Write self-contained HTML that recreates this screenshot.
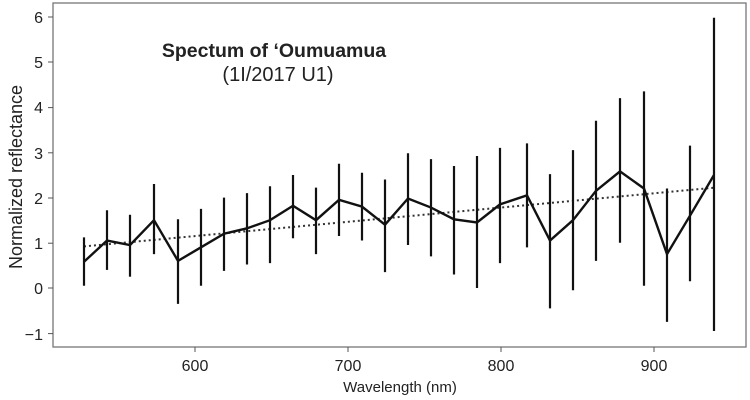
<!DOCTYPE html>
<html><head><meta charset="utf-8"><style>body{margin:0;background:#fff}svg{display:block}text{font-family:"Liberation Sans",Arial,sans-serif;fill:#222}</style></head><body>
<svg width="750" height="400" xmlns="http://www.w3.org/2000/svg">
<rect x="53" y="3" width="693" height="344" fill="none" stroke="#777" stroke-width="1.3"/>
<g stroke="#555" stroke-width="1">
<line x1="48" y1="17" x2="53" y2="17"/><line x1="48" y1="62" x2="53" y2="62"/><line x1="48" y1="107.6" x2="53" y2="107.6"/><line x1="48" y1="152.8" x2="53" y2="152.8"/><line x1="48" y1="198" x2="53" y2="198"/><line x1="48" y1="243.2" x2="53" y2="243.2"/><line x1="48" y1="288" x2="53" y2="288"/><line x1="48" y1="333.6" x2="53" y2="333.6"/>
<line x1="195" y1="347" x2="195" y2="352"/><line x1="348" y1="347" x2="348" y2="352"/><line x1="501" y1="347" x2="501" y2="352"/><line x1="654" y1="347" x2="654" y2="352"/>
</g>
<g font-size="16" text-anchor="end">
<text x="43" y="23">6</text><text x="43" y="68">5</text><text x="43" y="113">4</text><text x="43" y="159">3</text><text x="43" y="204">2</text><text x="43" y="249">1</text><text x="43" y="294">0</text><text x="43" y="340">−1</text>
</g>
<g font-size="16" text-anchor="middle">
<text x="195" y="371">600</text><text x="348" y="371">700</text><text x="501" y="371">800</text><text x="654" y="371">900</text>
<text x="400" y="392" font-size="15">Wavelength  (nm)</text>
<text transform="translate(22,177) rotate(-90)" font-size="18">Normalized reflectance</text>
<text x="274" y="57" font-size="19.5" font-weight="bold">Spectum of ‘Oumuamua</text>
<text x="278" y="81" font-size="20">(1I/2017 U1)</text>
</g>
<line x1="84" y1="246.4" x2="714" y2="187.7" stroke="#333" stroke-width="2" stroke-dasharray="2,3"/>
<g id="err" stroke="#111" stroke-width="2.2"></g>
<polyline id="ln" fill="none" stroke="#111" stroke-width="2.4" stroke-linejoin="miter"/>
<script>
var d=[[84,.58,.05,1.12],[107,1.05,.4,1.72],[130,.95,.25,1.62],[154,1.5,.75,2.3],[178,.6,-.35,1.52],[201,.9,.05,1.75],[224,1.2,.38,2],[247,1.32,.52,2.1],[270,1.5,.55,2.25],[293,1.82,1.1,2.5],[316,1.5,.75,2.22],[339,1.95,1.15,2.75],[362,1.8,1.05,2.55],[385,1.4,.35,2.4],[408,1.98,.95,2.98],[431,1.78,.7,2.85],[454,1.52,.3,2.7],[477,1.45,0,2.92],[500,1.85,.55,3.1],[527,2.05,.9,3.2],[550,1.05,-.45,2.52],[573,1.5,-.05,3.05],[596,2.15,.6,3.7],[620,2.58,1,4.2],[644,2.2,.05,4.35],[667,.75,-.75,2.2],[690,1.6,.15,3.15],[714,2.5,-.95,5.98]];
function y(v){return 288-45.2*v}
var g=document.getElementById('err'),p=[],ns='http://www.w3.org/2000/svg';
d.forEach(function(a){var l=document.createElementNS(ns,'line');l.setAttribute('x1',a[0]);l.setAttribute('x2',a[0]);l.setAttribute('y1',y(a[2]));l.setAttribute('y2',y(a[3]));g.appendChild(l);p.push(a[0]+','+y(a[1]));});
document.getElementById('ln').setAttribute('points',p.join(' '));
</script>
</svg>
</body></html>
